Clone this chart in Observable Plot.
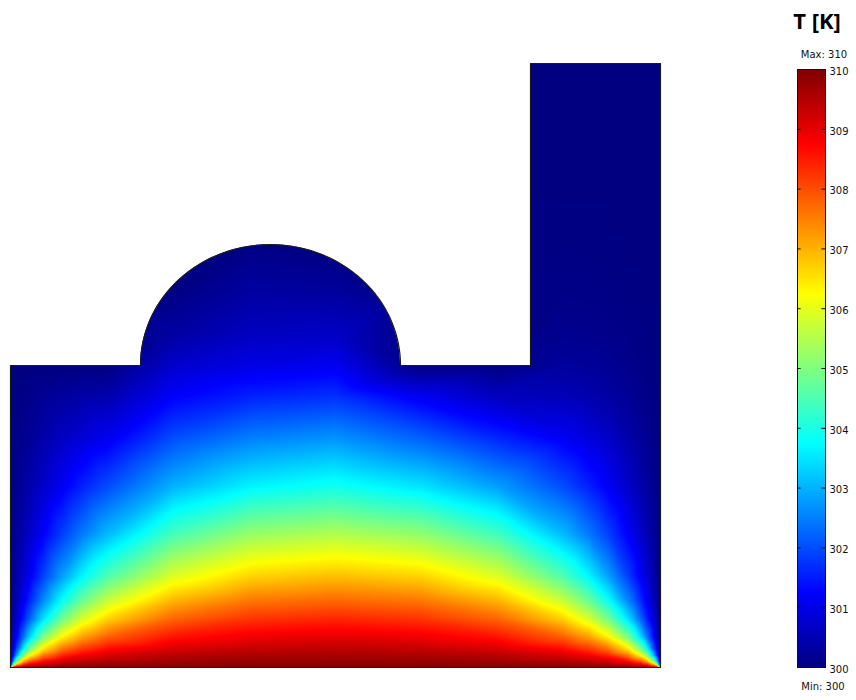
<!DOCTYPE html>
<html>
<head>
<meta charset="utf-8">
<script src="https://cdn.jsdelivr.net/npm/d3@7"></script>
<script src="https://cdn.jsdelivr.net/npm/@observablehq/plot@0.6"></script>
<style>
  body { margin: 0; background: #fff; }
  #wrap { position: relative; width: 856px; height: 700px; overflow: hidden; font-family: "DejaVu Sans", sans-serif; }
  #main { position: absolute; left: 0; top: 0; }
  #bar { position: absolute; left: 760px; top: 0; }
  .lbl { position: absolute; font-size: 10px; line-height: 12px; color: #111; white-space: nowrap; transform: translateX(-50%); }
  #title { position: absolute; left: 817px; top: 8px; transform: translateX(-50%); font-family: "Open Sans", sans-serif; font-weight: 700; font-size: 22px; line-height: 24px; color: #000; white-space: nowrap; }
</style>
</head>
<body>
<div id="wrap">
  <div id="main"></div>
  <div id="bar"></div>
  <div id="title">T [K]</div>
  <div class="lbl" style="left:824px; top:49px;">Max: 310</div>
  <div class="lbl" style="left:823px; top:681px;">Min: 300</div>
</div>
<script>
// ---- Sample positions (domain units: width 1, tall block height 1) ----
const xs = [0, 0.005, 0.01, 0.02, 0.03, 0.05, 0.08, 0.11, 0.15, 0.25, 0.37, 0.5, 0.63, 0.75, 0.85, 0.89, 0.92, 0.95, 0.97, 0.98, 0.99, 0.995, 1];
const ys = [0, 0.005, 0.01, 0.02, 0.03, 0.05, 0.08, 0.11, 0.15, 0.22, 0.3, 0.38, 0.45, 0.5, 0.55, 0.62, 0.7, 0.85, 1];

// ---- Temperature [K], one row per ys value ----
const temps = [
  [305, 310, 310, 310, 310, 310, 310, 310, 310, 310, 310, 310, 310, 310, 310, 310, 310, 310, 310, 310, 310, 310, 305],
  [300, 305.0, 307.05, 308.44, 308.95, 309.36, 309.6, 309.7, 309.78, 309.86, 309.89, 309.9, 309.89, 309.86, 309.78, 309.7, 309.6, 309.36, 308.95, 308.44, 307.05, 305.0, 300],
  [300, 302.95, 305.0, 307.05, 307.95, 308.74, 309.2, 309.41, 309.56, 309.72, 309.78, 309.8, 309.78, 309.72, 309.56, 309.41, 309.2, 308.74, 307.95, 307.05, 305.0, 302.95, 300],
  [300, 301.55, 302.94, 304.99, 306.24, 307.56, 308.42, 308.83, 309.12, 309.43, 309.56, 309.6, 309.56, 309.43, 309.12, 308.83, 308.42, 307.56, 306.24, 304.99, 302.94, 301.55, 300],
  [300, 301.05, 302.04, 303.73, 304.98, 306.53, 307.68, 308.26, 308.69, 309.15, 309.35, 309.4, 309.35, 309.15, 308.69, 308.26, 307.68, 306.53, 304.98, 303.73, 302.04, 301.05, 300],
  [300, 300.63, 301.24, 302.39, 303.4, 304.95, 306.37, 307.2, 307.85, 308.59, 308.91, 309.0, 308.91, 308.59, 307.85, 307.2, 306.37, 304.95, 303.4, 302.39, 301.24, 300.63, 300],
  [300, 300.39, 300.77, 301.52, 302.23, 303.47, 304.88, 305.86, 306.71, 307.77, 308.26, 308.39, 308.26, 307.77, 306.71, 305.86, 304.88, 303.47, 302.23, 301.52, 300.77, 300.39, 300],
  [300, 300.28, 300.55, 301.1, 301.62, 302.6, 303.84, 304.8, 305.72, 307.0, 307.6, 307.75, 307.6, 307.0, 305.72, 304.8, 303.84, 302.6, 301.62, 301.1, 300.55, 300.28, 300],
  [300, 300.2, 300.39, 300.78, 301.15, 301.88, 302.85, 303.7, 304.55, 305.95, 306.7, 306.9, 306.7, 305.95, 304.55, 303.7, 302.85, 301.88, 301.15, 300.78, 300.39, 300.2, 300],
  [300, 300.12, 300.25, 300.5, 300.72, 301.2, 301.87, 302.45, 303.1, 304.45, 305.25, 305.5, 305.2, 304.4, 303.1, 302.45, 301.87, 301.2, 300.72, 300.5, 300.25, 300.12, 300],
  [300, 300.08, 300.15, 300.3, 300.42, 300.72, 301.15, 301.55, 302.0, 303.0, 303.65, 303.9, 303.5, 302.8, 302.0, 301.55, 301.15, 300.72, 300.42, 300.3, 300.15, 300.08, 300],
  [300, 300.04, 300.07, 300.15, 300.22, 300.4, 300.65, 300.85, 301.1, 302.0, 302.5, 302.7, 302.2, 301.6, 301.15, 300.9, 300.7, 300.42, 300.25, 300.16, 300.08, 300.04, 300],
  [300, 300.01, 300.03, 300.07, 300.1, 300.18, 300.3, 300.38, 300.45, 301.2, 301.55, 301.7, 301.1, 300.6, 300.55, 300.45, 300.35, 300.22, 300.12, 300.08, 300.04, 300.02, 300],
  [300, 300, 300, 300, 300, 300, 300, 300, 300, 300.75, 301.0, 301.1, 300, 300, 300.3, 300.25, 300.2, 300.12, 300.07, 300.05, 300.02, 300.01, 300],
  [300, 300, 300, 300, 300, 300, 300, 300, 300, 300.35, 300.65, 300.7, 300, 300, 300.15, 300.12, 300.1, 300.07, 300.04, 300.03, 300.01, 300, 300],
  [300, 300, 300, 300, 300, 300, 300, 300, 300, 300.05, 300.35, 300.3, 300, 300, 300.07, 300.06, 300.05, 300.03, 300.02, 300.01, 300, 300, 300],
  [300, 300, 300, 300, 300, 300, 300, 300, 300, 300, 300.05, 300, 300, 300, 300.03, 300.03, 300.02, 300.01, 300, 300, 300, 300, 300],
  [300, 300, 300, 300, 300, 300, 300, 300, 300, 300, 300, 300, 300, 300, 300, 300, 300, 300, 300, 300, 300, 300, 300],
  [300, 300, 300, 300, 300, 300, 300, 300, 300, 300, 300, 300, 300, 300, 300, 300, 300, 300, 300, 300, 300, 300, 300]
];

// ---- Colour bar ----
const tickVals = [300, 301, 302, 303, 304, 305, 306, 307, 308, 309, 310];
const jetStops = [300, 301.25, 303.75, 306.25, 308.75, 310];
const jetColors = ["#000080", "#0000ff", "#00ffff", "#ffff00", "#ff0000", "#800000"];

// ---- Geometry of the domain ----
const rectTop = 0.5;      // top of the lower block
const tallLeft = 0.8;     // left edge of the tall block
const circCx = 0.4, circCy = 0.5, circR = 0.2;  // half disc on top

const points = temps.flatMap((row, i) => row.map((t, j) => ({x: xs[j], y: ys[i], t})));

const arc = (from, to) => d3.range(0, 121).map(k => {
  const a = (from + (to - from) * k / 120) * Math.PI / 180;
  return {x: circCx + circR * Math.cos(a), y: circCy + circR * Math.sin(a)};
});

const maskPts = [{x: -0.01, y: rectTop}, {x: circCx - circR, y: rectTop}, ...arc(180, 0),
                 {x: circCx + circR, y: rectTop}, {x: tallLeft, y: rectTop}];

const outline = [{x: 0, y: 0}, {x: 1, y: 0}, {x: 1, y: 1}, {x: tallLeft, y: 1},
                 {x: tallLeft, y: rectTop}, {x: circCx + circR, y: rectTop}, ...arc(0, 180),
                 {x: circCx - circR, y: rectTop}, {x: 0, y: rectTop}, {x: 0, y: 0}];

const color = {type: "linear", domain: jetStops, range: jetColors, interpolate: "rgb"};

const main = Plot.plot({
  width: 680, height: 700,
  marginLeft: 10, marginRight: 20, marginTop: 63, marginBottom: 33,
  style: {background: "transparent", overflow: "visible"},
  x: {domain: [0, 1], axis: null},
  y: {domain: [0, 1], axis: null},
  color,
  marks: [
    Plot.raster(points, {x: "x", y: "y", fill: "t", interpolate: "barycentric"}),
    Plot.areaY(maskPts, {x: "x", y1: "y", y2: () => 1.06, fill: "white"}),
    Plot.line(outline, {x: "x", y: "y", stroke: "#1c1c1c", strokeWidth: 1.2})
  ]
});
document.getElementById("main").appendChild(main);

const bar = Plot.plot({
  width: 96, height: 700,
  marginLeft: 37, marginRight: 31, marginTop: 69, marginBottom: 33,
  style: {background: "transparent", overflow: "visible", fontFamily: "DejaVu Sans", fontSize: "10px"},
  x: {domain: [0, 1], axis: null},
  y: {domain: [300, 310]},
  color,
  marks: [
    Plot.raster({x1: 0, x2: 1, y1: 300, y2: 310, fill: (x, y) => y}),
    Plot.ruleY(tickVals, {x1: 0, x2: 0.13, stroke: "#111"}),
    Plot.ruleY(tickVals, {x1: 0.87, x2: 1, stroke: "#111"}),
    Plot.frame({stroke: "#111"}),
    Plot.axisY({anchor: "right", ticks: tickVals, tickSize: 0, tickPadding: 4, dy: 2, tickFormat: d => String(d), fill: "#111"})
  ]
});
document.getElementById("bar").appendChild(bar);
</script>
</body>
</html>
